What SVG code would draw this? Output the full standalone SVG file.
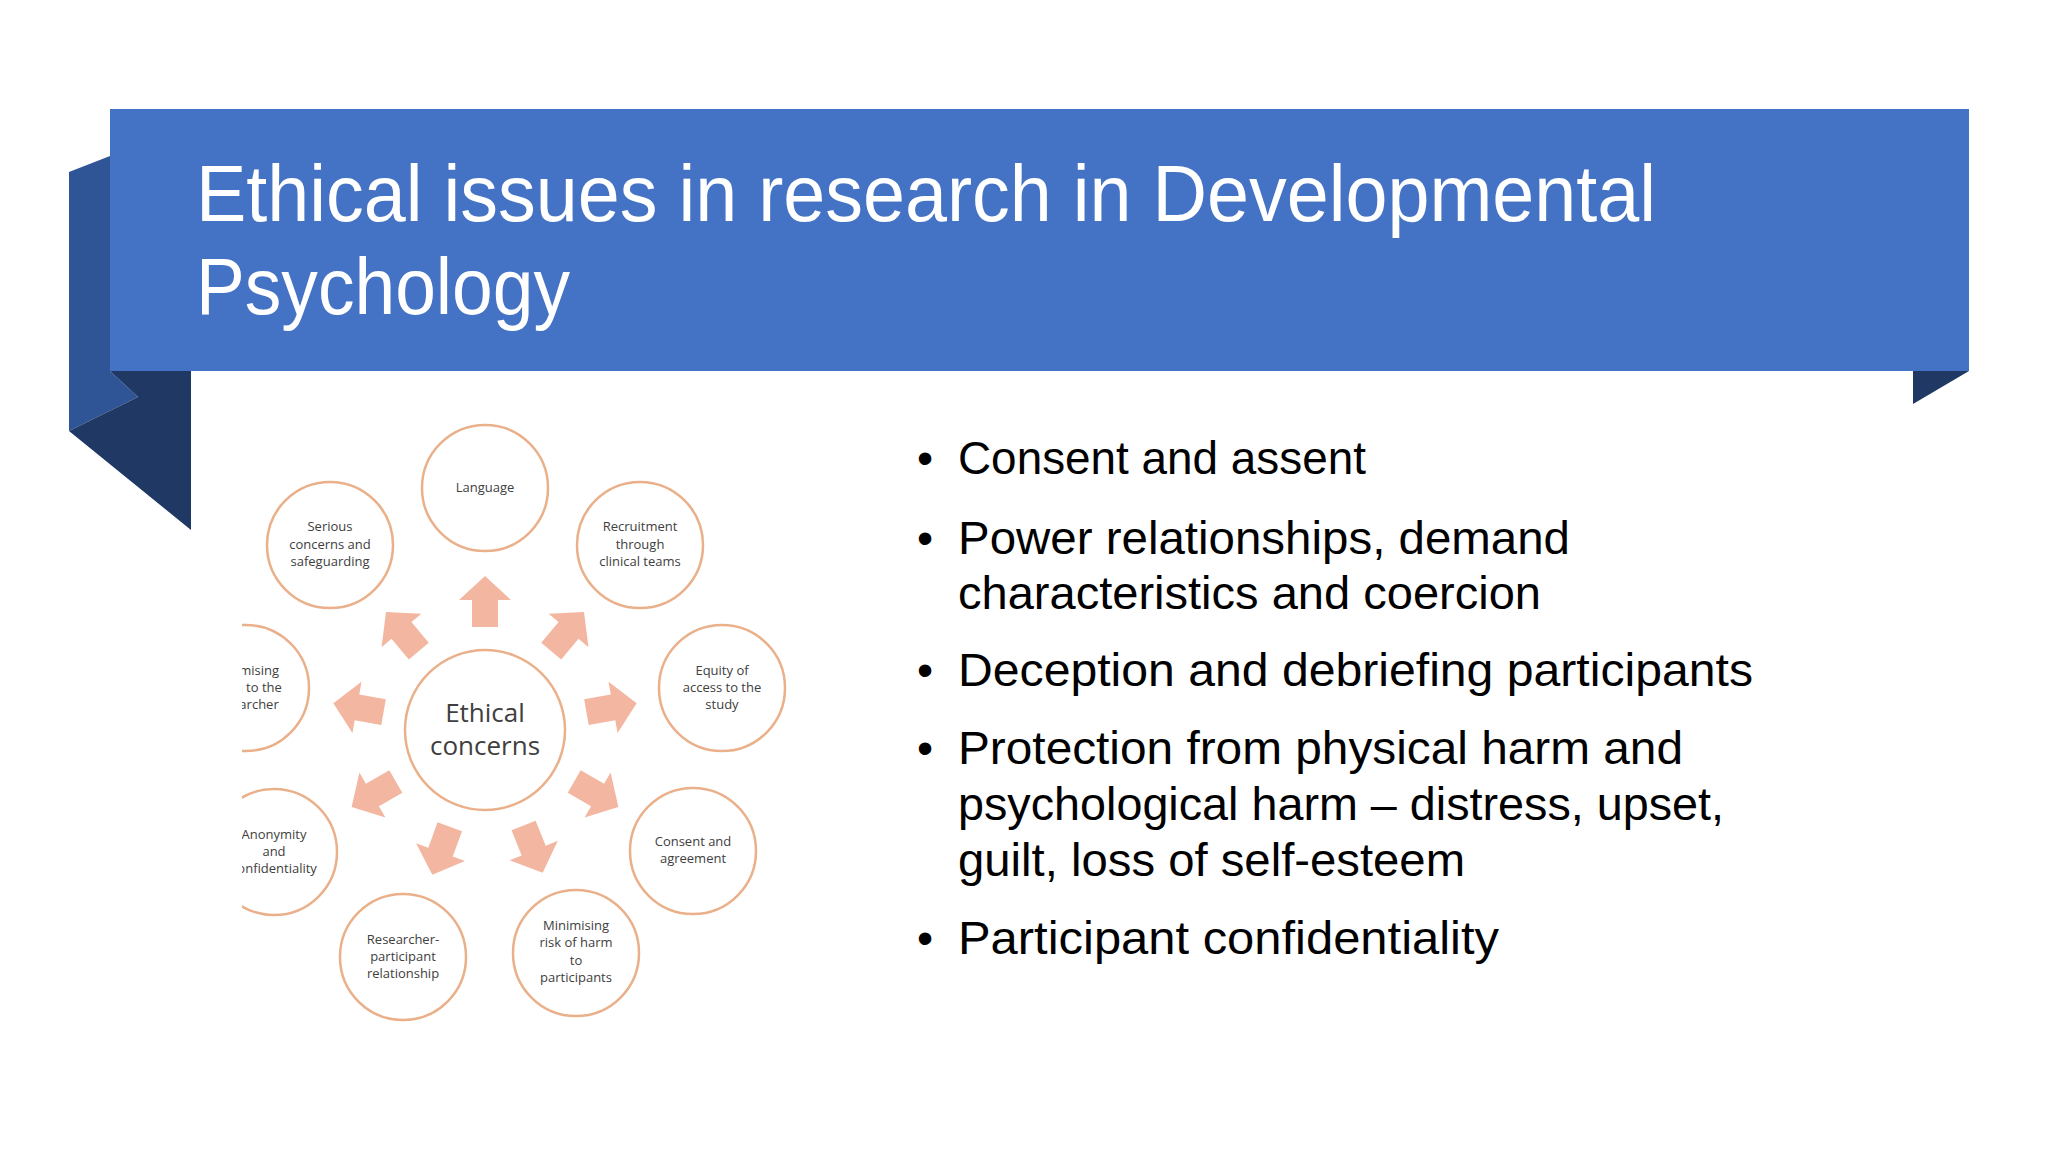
<svg xmlns="http://www.w3.org/2000/svg" width="2048" height="1152" viewBox="0 0 2048 1152">
<defs>
<style>
.t{font-family:"Liberation Sans","Open Sans",sans-serif;fill:#fff;font-size:80px}
.b{font-family:"Liberation Sans","Open Sans",sans-serif;fill:#000;font-size:46px}
.c{fill:#fff;stroke:#eab08a;stroke-width:2.5}
.s{font-family:"Open Sans","Liberation Sans",sans-serif;fill:#404040;font-size:13px;text-anchor:middle}
.m{font-family:"Open Sans","Liberation Sans",sans-serif;fill:#404040;font-size:26px;text-anchor:middle}
.a{fill:#f3b6a0}
</style>
<clipPath id="clip"><rect x="242" y="400" width="600" height="660"/></clipPath>
<polygon id="arr" points="0,-29 26,-5 13,-5 13,22 -13,22 -13,-5 -26,-5"/>
</defs>
<rect width="2048" height="1152" fill="#fff"/>
<g id="banner">
<polygon points="69,172 110,156 110,371 138,397 69,431" fill="#2f5597"/>
<polygon points="69,431 138,397 110,371 191,371 191,530" fill="#1f3864"/>
<polygon points="1913,371 1969,371 1913,404" fill="#1f3864"/>
<rect x="110" y="109" width="1859" height="262" fill="#4472c4"/>
<text class="t" x="196" y="221" textLength="1460" lengthAdjust="spacingAndGlyphs">Ethical issues in research in Developmental</text>
<text class="t" x="196" y="314" textLength="374" lengthAdjust="spacingAndGlyphs">Psychology</text>
</g>
<g id="bullets">
<g class="b">
<text x="917" y="474">•</text><text x="958" y="474" textLength="408" lengthAdjust="spacingAndGlyphs">Consent and assent</text>
<text x="917" y="554">•</text><text x="958" y="554" textLength="612" lengthAdjust="spacingAndGlyphs">Power relationships, demand</text>
<text x="958" y="609" textLength="583" lengthAdjust="spacingAndGlyphs">characteristics and coercion</text>
<text x="917" y="686">•</text><text x="958" y="686" textLength="795" lengthAdjust="spacingAndGlyphs">Deception and debriefing participants</text>
<text x="917" y="764">•</text><text x="958" y="764" textLength="725" lengthAdjust="spacingAndGlyphs">Protection from physical harm and</text>
<text x="958" y="820" textLength="766" lengthAdjust="spacingAndGlyphs">psychological harm – distress, upset,</text>
<text x="958" y="876" textLength="507" lengthAdjust="spacingAndGlyphs">guilt, loss of self-esteem</text>
<text x="917" y="954">•</text><text x="958" y="954" textLength="541" lengthAdjust="spacingAndGlyphs">Participant confidentiality</text>
</g>
</g>
<g id="diagram" clip-path="url(#clip)">
<g id="connectors" class="a">
<use href="#arr" transform="translate(485,730) rotate(0) translate(0,-125)"/>
<use href="#arr" transform="translate(485,730) rotate(40) translate(0,-125)"/>
<use href="#arr" transform="translate(485,730) rotate(80) translate(0,-125)"/>
<use href="#arr" transform="translate(485,730) rotate(120) translate(0,-125)"/>
<use href="#arr" transform="translate(485,730) rotate(158) translate(0,-125)"/>
<use href="#arr" transform="translate(485,730) rotate(200) translate(0,-125)"/>
<use href="#arr" transform="translate(485,730) rotate(240) translate(0,-125)"/>
<use href="#arr" transform="translate(485,730) rotate(280) translate(0,-125)"/>
<use href="#arr" transform="translate(485,730) rotate(320) translate(0,-125)"/>
</g>
<g id="center"><circle class="c" cx="485" cy="730" r="80"/><text class="m" x="485" y="722">Ethical</text><text class="m" x="485" y="755">concerns</text></g>
<g id="language"><circle class="c" cx="485" cy="488" r="63"/><text class="s" x="485" y="492">Language</text></g>
<g id="recruitment"><circle class="c" cx="640" cy="545" r="63"/><text class="s" x="640" y="531">Recruitment</text><text class="s" x="640" y="549">through</text><text class="s" x="640" y="566">clinical teams</text></g>
<g id="equity"><circle class="c" cx="722" cy="688" r="63"/><text class="s" x="722" y="675">Equity of</text><text class="s" x="722" y="692">access to the</text><text class="s" x="722" y="709">study</text></g>
<g id="consent"><circle class="c" cx="693" cy="851" r="63"/><text class="s" x="693" y="846">Consent and</text><text class="s" x="693" y="863">agreement</text></g>
<g id="minimising"><circle class="c" cx="576" cy="953" r="63"/><text class="s" x="576" y="930">Minimising</text><text class="s" x="576" y="947">risk of harm</text><text class="s" x="576" y="965">to</text><text class="s" x="576" y="982">participants</text></g>
<g id="researcher"><circle class="c" cx="403" cy="957" r="63"/><text class="s" x="403" y="944">Researcher-</text><text class="s" x="403" y="961">participant</text><text class="s" x="403" y="978">relationship</text></g>
<g id="anonymity"><circle class="c" cx="274" cy="852" r="63"/><text class="s" x="274" y="839">Anonymity</text><text class="s" x="274" y="856">and</text><text class="s" x="274" y="873">confidentiality</text></g>
<g id="harm-researcher"><circle class="c" cx="246" cy="688" r="63"/><text class="s" x="246" y="675">Minimising</text><text class="s" x="246" y="692">harm to the</text><text class="s" x="246" y="709">researcher</text></g>
<g id="serious"><circle class="c" cx="330" cy="545" r="63"/><text class="s" x="330" y="531">Serious</text><text class="s" x="330" y="549">concerns and</text><text class="s" x="330" y="566">safeguarding</text></g>
</g>
</svg>
